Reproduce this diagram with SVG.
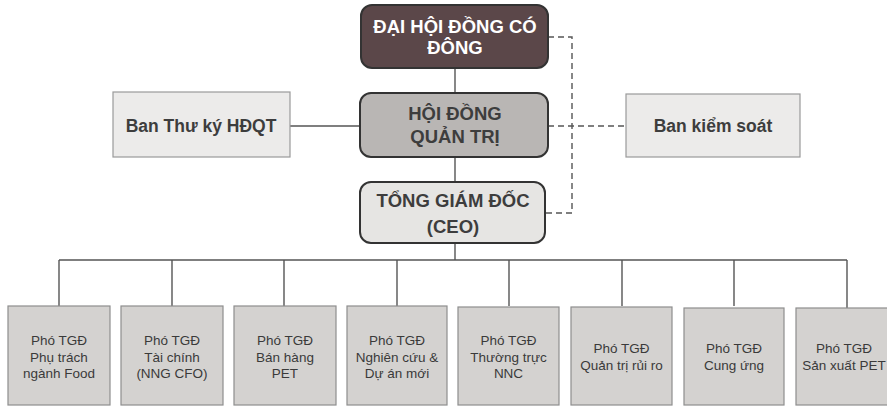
<svg xmlns="http://www.w3.org/2000/svg" width="887" height="408" viewBox="0 0 887 408">
<style>
  .t { font-family: "Liberation Sans", Arial, sans-serif; text-anchor: middle; }
  .big { font-size: 18.5px; font-weight: bold; fill: #3d3d3d; }
  .side { font-size: 17.5px; font-weight: bold; fill: #3d3d3d; }
  .small { font-size: 13.5px; fill: #3a3a3a; }
  .rbox { stroke: #333; stroke-width: 2; }
  .sbox { fill: #ecebea; stroke: #9a9a9a; stroke-width: 1.2; }
  .bbox { fill: #d4d2d0; stroke: #8e8e8e; stroke-width: 1.2; }
  .ln { stroke: #555; stroke-width: 1.4; fill: none; }
  .dash { stroke: #555; stroke-width: 1.4; fill: none; stroke-dasharray: 6 4; }
</style>
<rect width="887" height="408" fill="#ffffff"/>
<g id="connectors">
  <line class="ln" x1="455" y1="68" x2="455" y2="93"/>
  <line class="ln" x1="455" y1="157" x2="455" y2="182"/>
  <line class="ln" x1="290" y1="126" x2="360" y2="126"/>
  <line class="ln" x1="455" y1="243" x2="455" y2="260"/>
  <line class="ln" x1="59" y1="260" x2="847" y2="260"/>
  <line class="ln" x1="59" y1="260" x2="59" y2="306"/>
  <line class="ln" x1="172" y1="260" x2="172" y2="306"/>
  <line class="ln" x1="284" y1="260" x2="284" y2="306"/>
  <line class="ln" x1="397" y1="260" x2="397" y2="306"/>
  <line class="ln" x1="509" y1="260" x2="509" y2="306"/>
  <line class="ln" x1="622" y1="260" x2="622" y2="306"/>
  <line class="ln" x1="734" y1="260" x2="734" y2="306"/>
  <line class="ln" x1="847" y1="260" x2="847" y2="308"/>
  <polyline class="dash" points="548,37 572,37 572,213 545,213"/>
  <line class="dash" x1="548" y1="126" x2="626" y2="126"/>
</g>
<g id="dhdcd">
  <rect class="rbox" x="361" y="5" width="187" height="63" rx="11" fill="#5b4749"/>
  <text class="t big" x="455" y="33" style="fill:#ffffff">ĐẠI HỘI ĐỒNG CÓ</text>
  <text class="t big" x="455" y="54" style="fill:#ffffff">ĐÔNG</text>
</g>
<g id="hdqt">
  <rect class="rbox" x="360" y="93" width="188" height="64" rx="11" fill="#b9b6b4"/>
  <text class="t big" x="455" y="120">HỘI ĐỒNG</text>
  <text class="t big" x="455" y="143">QUẢN TRỊ</text>
</g>
<g id="ceo">
  <rect class="rbox" x="360" y="182" width="185" height="61" rx="11" fill="#e6e5e3"/>
  <text class="t big" x="453" y="207">TỔNG GIÁM ĐỐC</text>
  <text class="t big" x="453" y="233">(CEO)</text>
</g>
<g id="ban-thu-ky">
  <rect class="sbox" x="113" y="92" width="177" height="65"/>
  <text class="t side" x="201" y="132">Ban Thư ký HĐQT</text>
</g>
<g id="ban-kiem-soat">
  <rect class="sbox" x="626" y="94" width="174" height="63"/>
  <text class="t side" x="713" y="132">Ban kiểm soát</text>
</g>
<g id="pho1">
  <rect class="bbox" x="8" y="306" width="102" height="99"/>
  <text class="t small" x="59" y="345">Phó TGĐ</text>
  <text class="t small" x="59" y="361.5">Phụ trách</text>
  <text class="t small" x="59" y="378">ngành Food</text>
</g>
<g id="pho2">
  <rect class="bbox" x="121" y="306" width="102" height="99"/>
  <text class="t small" x="172" y="345">Phó TGĐ</text>
  <text class="t small" x="172" y="361.5">Tài chính</text>
  <text class="t small" x="172" y="378">(NNG CFO)</text>
</g>
<g id="pho3">
  <rect class="bbox" x="234" y="306" width="102" height="99"/>
  <text class="t small" x="285" y="345">Phó TGĐ</text>
  <text class="t small" x="285" y="361.5">Bán hàng</text>
  <text class="t small" x="285" y="378">PET</text>
</g>
<g id="pho4">
  <rect class="bbox" x="347" y="306" width="100" height="99"/>
  <text class="t small" x="397" y="345">Phó TGĐ</text>
  <text class="t small" x="397" y="361.5">Nghiên cứu &amp;</text>
  <text class="t small" x="397" y="378">Dự án mới</text>
</g>
<g id="pho5">
  <rect class="bbox" x="458" y="307" width="101" height="98"/>
  <text class="t small" x="508.5" y="345">Phó TGĐ</text>
  <text class="t small" x="508.5" y="361.5">Thường trực</text>
  <text class="t small" x="508.5" y="378">NNC</text>
</g>
<g id="pho6">
  <rect class="bbox" x="571" y="307" width="101" height="98"/>
  <text class="t small" x="621.5" y="353">Phó TGĐ</text>
  <text class="t small" x="621.5" y="370">Quản trị rủi ro</text>
</g>
<g id="pho7">
  <rect class="bbox" x="684" y="308" width="100" height="97"/>
  <text class="t small" x="734" y="353">Phó TGĐ</text>
  <text class="t small" x="734" y="370">Cung ứng</text>
</g>
<g id="pho8">
  <rect class="bbox" x="796" y="308" width="102" height="97"/>
  <text class="t small" x="844" y="353">Phó TGĐ</text>
  <text class="t small" x="844" y="370">Sản xuất PET</text>
</g>
</svg>
